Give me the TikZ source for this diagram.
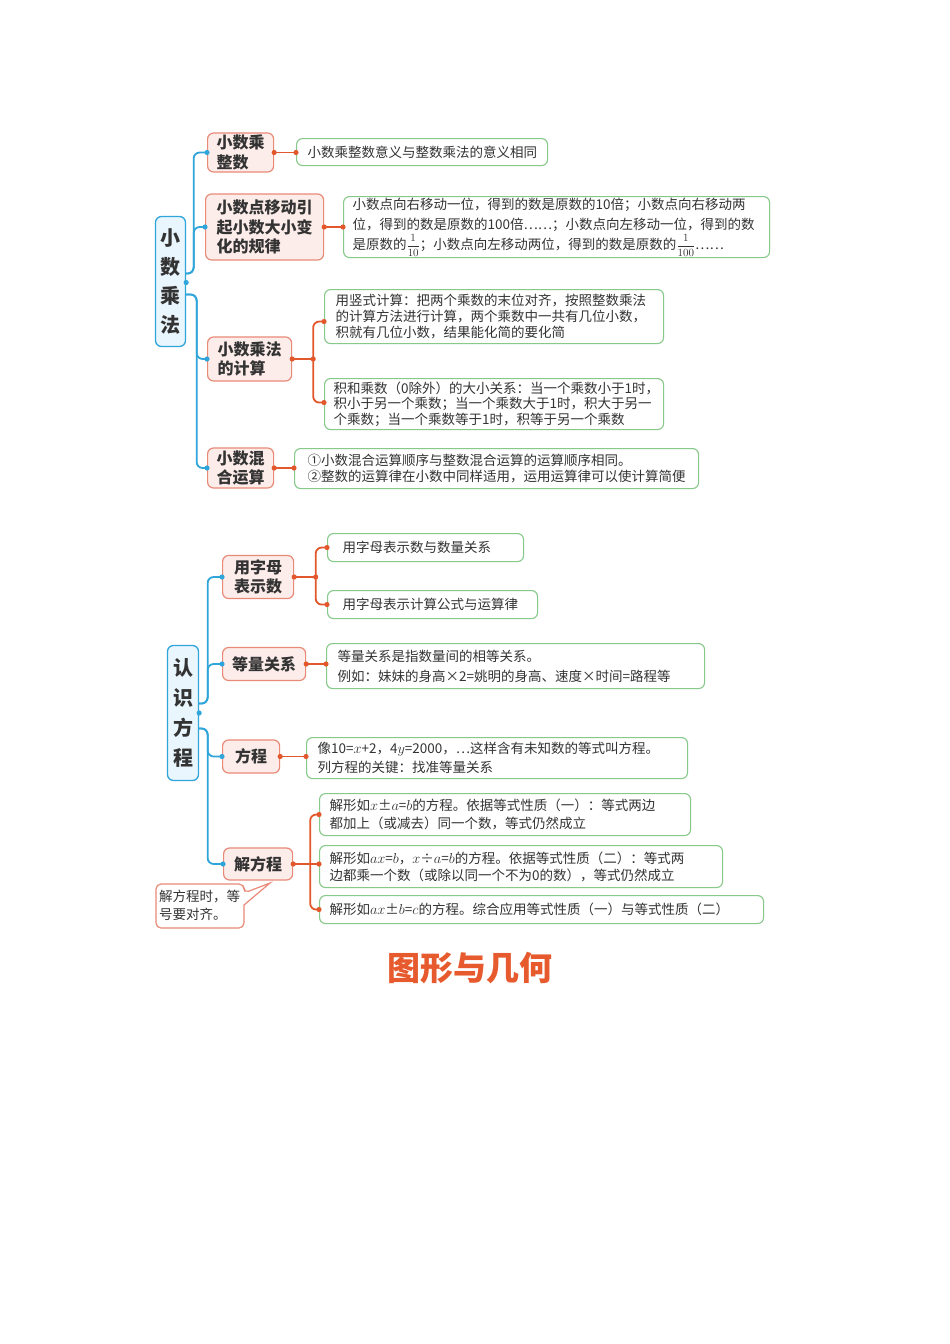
\documentclass[tikz,border=0pt]{standalone}
\usepackage{fontspec}
\newfontfamily\cjk{Noto Sans CJK SC}
\usetikzlibrary{calc}
\definecolor{cblue}{HTML}{2FA5DA}
\definecolor{cbluefill}{HTML}{EAF6FD}
\definecolor{credline}{HTML}{E2572B}
\definecolor{credbox}{HTML}{E98A78}
\definecolor{credfill}{HTML}{FDEDEA}
\definecolor{cgreen}{HTML}{86C988}
\definecolor{ctext}{HTML}{333333}
\definecolor{ctitle}{HTML}{E65A2E}
\newcommand{\myfrac}[2]{{\fontsize{10.5}{10.5}\selectfont$\displaystyle\frac{#1}{#2}$}}
\begin{document}
\begin{tikzpicture}[x=1pt,y=-1pt,
  rootbox/.style={draw=cblue, fill=cbluefill, rounded corners=6pt, line width=1.3pt, inner sep=0pt, align=center, text=ctext},
  redbox/.style={draw=credbox, fill=credfill, rounded corners=6pt, line width=1.2pt, anchor=west, inner ysep=0pt, align=left, text=ctext, font=\cjk\bfseries\fontsize{16}{19.5}\selectfont},
  greenbox/.style={draw=cgreen, fill=white, rounded corners=6pt, line width=1.1pt, anchor=north west, inner ysep=0pt, align=left, text=ctext},
  gbox/.style n args={3}{greenbox, text width=#1, inner xsep=#2, minimum height=#3},
  bline/.style={draw=cblue, line width=1.8pt, rounded corners=6pt},
  rline/.style={draw=credline, line width=1.8pt, rounded corners=6pt},
  bdot/.style={fill=cblue},
  rdot/.style={fill=credline},
  sm/.style={font=\cjk\fontsize{13.5}{#1}\selectfont}
]
\useasboundingbox (0,0) rectangle (950,1344);
\fill[white] (0,0) rectangle (950,1344);

% ---------- section 1 ----------
\node[rootbox, minimum width=30pt, minimum height=130pt, font=\cjk\bfseries\fontsize{20}{29}\selectfont] (r1) at (170.5,281.5) {小\\数\\乘\\法};

\node[redbox, inner xsep=9pt, minimum height=39pt] (a1) at (207,152.5) {小数乘\\整数};
\node[redbox, inner xsep=11pt, minimum height=66pt] (a2) at (205,227) {小数点移动引\\起小数大小变\\化的规律};
\node[redbox, inner xsep=10pt, minimum height=44pt] (a3) at (207,359) {小数乘法\\的计算};
\node[redbox, inner xsep=9pt, minimum height=40pt] (a4) at (207,468) {小数混\\合运算};

\node[gbox={229pt}{11pt}{27pt}, sm=16] (g1) at (296,138) {小数乘整数意义与整数乘法的意义相同};
\node[gbox={408pt}{9pt}{61pt}, sm=20] (g2) at (343,196) {小数点向右移动一位，得到的数是原数的10倍；小数点向右移动两\\位，得到的数是原数的100倍……；小数点向左移动一位，得到的数\\是原数的\myfrac{1}{10}；小数点向左移动两位，得到的数是原数的\myfrac{1}{100}……};
\node[gbox={317pt}{11pt}{54pt}, sm=16] (g3a) at (324,289) {用竖式计算：把两个乘数的末位对齐，按照整数乘法\\的计算方法进行计算，两个乘数中一共有几位小数，\\积就有几位小数，结果能化简的要化简};
\node[gbox={321pt}{9pt}{51pt}, sm=15.5] (g3b) at (324,378) {积和乘数（0除外）的大小关系：当一个乘数小于1时，\\积小于另一个乘数；当一个乘数大于1时，积大于另一\\个乘数；当一个乘数等于1时，积等于另一个乘数};
\node[gbox={378pt}{13pt}{40pt}, sm=15.5] (g4) at (294,448) {①小数混合运算顺序与整数混合运算的运算顺序相同。\\②整数的运算律在小数中同样适用，运用运算律可以使计算简便};

% blue connectors section 1
\draw[bline] ([yshift=8pt]r1.east) -- ++(7.5,0) |- (a1.west);
\draw[bline] ([yshift=8pt]r1.east) -- ++(7.5,0) |- (a2.west);
\draw[bline] ([yshift=-13pt]r1.east) -- ++(10.5,0) |- (a3.west);
\draw[bline] ([yshift=-13pt]r1.east) -- ++(10.5,0) |- (a4.west);
\fill[bdot] ([yshift=-1pt]r1.east) circle[radius=2.6pt];
\foreach \n in {a1,a2,a3,a4} {\fill[bdot] (\n.west) circle[radius=2.6pt];}

% red connectors section 1
\draw[rline] (a1.east) -- (a1.east -| g1.west);
\fill[rdot] (a1.east) circle[radius=2.6pt];
\fill[rdot] (a1.east -| g1.west) circle[radius=2.6pt];
\draw[rline] (a2.east) -- (a2.east -| g2.west);
\fill[rdot] (a2.east) circle[radius=2.6pt];
\fill[rdot] (a2.east -| g2.west) circle[radius=2.6pt];
\draw[rline] (a3.east) -- ([xshift=21pt]a3.east);
\draw[rline] ([xshift=21pt]a3.east) |- ([yshift=-5pt]g3a.west);
\draw[rline] ([xshift=21pt]a3.east) |- ([yshift=1.5pt]g3b.west);
\fill[rdot] (a3.east) circle[radius=2.6pt];
\fill[rdot] ([xshift=21pt]a3.east) circle[radius=2.6pt];
\fill[rdot] ([yshift=-5pt]g3a.west) circle[radius=2.6pt];
\fill[rdot] ([yshift=1.5pt]g3b.west) circle[radius=2.6pt];
\draw[rline] (a4.east) -- (a4.east -| g4.west);
\fill[rdot] (a4.east) circle[radius=2.6pt];
\fill[rdot] (a4.east -| g4.west) circle[radius=2.6pt];

% ---------- section 2 ----------
\node[rootbox, minimum width=31pt, minimum height=135pt, font=\cjk\bfseries\fontsize{20}{30}\selectfont] (r2) at (183,713) {认\\识\\方\\程};

\node[redbox, inner xsep=11.5pt, minimum height=43pt] (b1) at (222,577) {用字母\\表示数};
\node[redbox, inner xsep=9.5pt, minimum height=33pt] (b2) at (222,664) {等量关系};
\node[redbox, inner xsep=12.5pt, minimum height=33pt] (b3) at (222,756.5) {方程};
\node[redbox, inner xsep=10.5pt, minimum height=32pt] (b4) at (223,864) {解方程};

\node[gbox={166pt}{15pt}{28pt}, sm=16] (g5a) at (327,533) {用字母表示数与数量关系};
\node[gbox={180pt}{15pt}{28pt}, sm=16] (g5b) at (327,590) {用字母表示计算公式与运算律};
\node[gbox={356pt}{11pt}{45pt}, sm=20] (g6) at (326,643) {等量关系是指数量间的相等关系。\\例如：妹妹的身高×2=姚明的身高、速度×时间=路程等};
\node[gbox={359pt}{11pt}{41pt}, sm=19] (g7) at (306,737) {像10=$x$+2，4$y$=2000，…这样含有未知数的等式叫方程。\\列方程的关键：找准等量关系};
\node[gbox={351pt}{10pt}{42pt}, sm=18] (g8a) at (319,793) {解形如$x$±$a$=$b$的方程。依据等式性质（一）：等式两边\\都加上（或减去）同一个数，等式仍然成立};
\node[gbox={383pt}{10pt}{42pt}, sm=17] (g8b) at (319,845) {解形如$ax$=$b$，$x$÷$a$=$b$的方程。依据等式性质（二）：等式两\\边都乘一个数（或除以同一个不为0的数），等式仍然成立};
\node[gbox={424pt}{10pt}{28pt}, sm=16] (g8c) at (319,895) {解形如$ax$±$b$=$c$的方程。综合应用等式性质（一）与等式性质（二）};

% blue connectors section 2
\draw[bline] ([yshift=9.5pt]r2.east) -- ++(8.5,0) |- (b1.west);
\draw[bline] ([yshift=9.5pt]r2.east) -- ++(8.5,0) |- (b2.west);
\draw[bline] ([yshift=-15.5pt]r2.east) -- ++(8.5,0) |- (b3.west);
\draw[bline] ([yshift=-15.5pt]r2.east) -- ++(8.5,0) |- (b4.west);
\fill[bdot] (r2.east) circle[radius=2.6pt];
\foreach \n in {b1,b2,b3,b4} {\fill[bdot] (\n.west) circle[radius=2.6pt];}

% red connectors section 2
\draw[rline] (b1.east) -- ([xshift=21.5pt]b1.east);
\draw[rline] ([xshift=21.5pt]b1.east) |- (g5a.west);
\draw[rline] ([xshift=21.5pt]b1.east) |- (g5b.west);
\fill[rdot] (b1.east) circle[radius=2.6pt];
\fill[rdot] ([xshift=21.5pt]b1.east) circle[radius=2.6pt];
\fill[rdot] (g5a.west) circle[radius=2.6pt];
\fill[rdot] (g5b.west) circle[radius=2.6pt];
\draw[rline] (b2.east) -- (b2.east -| g6.west);
\fill[rdot] (b2.east) circle[radius=2.6pt];
\fill[rdot] (b2.east -| g6.west) circle[radius=2.6pt];
\draw[rline] (b3.east) -- (b3.east -| g7.west);
\fill[rdot] (b3.east) circle[radius=2.6pt];
\fill[rdot] (b3.east -| g7.west) circle[radius=2.6pt];
\draw[rline] (b4.east) -- (b4.east -| g8b.west);
\draw[rline] ([xshift=17pt]b4.east) |- (g8a.west);
\draw[rline] ([xshift=17pt]b4.east) |- (g8c.west);
\fill[rdot] (b4.east) circle[radius=2.6pt];
\fill[rdot] (g8a.west) circle[radius=2.6pt];
\fill[rdot] (b4.east -| g8b.west) circle[radius=2.6pt];
\fill[rdot] (g8c.west) circle[radius=2.6pt];

% callout
\draw[draw=credbox, fill=white, line width=1.2pt, rounded corners=5pt]
  (156,884) -- (244,884) -- (244,893) [sharp corners] -- (270,883) -- (244,905) [rounded corners=5pt] -- (244,928) -- (156,928) -- cycle;
\node[anchor=north west, inner sep=0pt, align=left, text=ctext, font=\cjk\fontsize{13.5}{18}\selectfont] (note) at (159,890) {解方程时，等\\号要对齐。};

% title
\node[text=ctitle, font=\cjk\bfseries\fontsize{33}{33}\selectfont] (title) at (470,968) {图形与几何};
\end{tikzpicture}
\end{document}
